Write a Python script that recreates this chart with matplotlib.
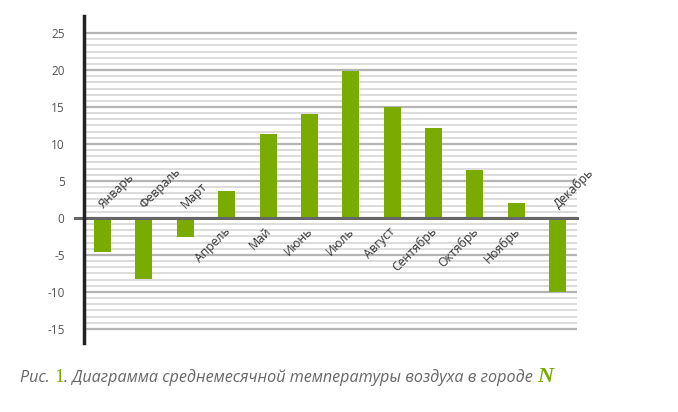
import matplotlib
matplotlib.use('Agg')
import matplotlib.pyplot as plt
import numpy as np

# данные
months = ['Январь', 'Февраль', 'Март', 'Апрель', 'Май', 'Июнь',
          'Июль', 'Август', 'Сентябрь', 'Октябрь', 'Ноябрь', 'Декабрь']
temps = [-4.6, -8.2, -2.6, 3.7, 11.4, 14.1, 19.8, 15.0, 12.2, 6.5, 2.0, -10.0]
yticks = [-15, -10, -5, 0, 5, 10, 15, 20, 25]

GREEN = '#7aab00'
plt.rcParams['font.family'] = ['Open Sans', 'DejaVu Sans']

fig = plt.figure(figsize=(6.78, 4.12), dpi=100)
ax = fig.add_axes([84/678, 1 - 343/412, (577-84)/678, (343-16)/412])

x = np.arange(len(months))
ax.bar(x, temps, width=0.41, color=GREEN, zorder=3)

ax.set_xlim(-0.45, 11.47)
ax.set_ylim(-16.9, 27.3)

# сетка
for v in np.arange(-15, 25.01, 5/6):
    ax.axhline(v, color='#dcdcdc', lw=1.4, zorder=1)
for v in yticks:
    ax.axhline(v, color='#b4b4b4', lw=1.6, zorder=2)
ax.plot([-0.67, 11.47], [0, 0], color='#666666', lw=2.2, zorder=4, clip_on=False)

ax.set_yticks(yticks)
ax.set_yticklabels([str(v) for v in yticks])
ax.tick_params(axis='y', length=0, pad=14, labelsize=8.5, labelcolor='#555555')
ax.set_xticks([])

for s in ['top', 'right', 'bottom']:
    ax.spines[s].set_visible(False)
ax.spines['left'].set_color('#222222')
ax.spines['left'].set_linewidth(2.5)
ax.spines['left'].set_zorder(5)

# подписи месяцев
for i, (m, t) in enumerate(zip(months, temps)):
    if t < 0:
        ax.text(i + 0.07, 0.9, m, rotation=45, rotation_mode='anchor',
                ha='left', va='bottom', fontsize=8.8, color='#333333', zorder=6)
    else:
        ax.text(i - 0.08, -0.9, m, rotation=45, rotation_mode='anchor',
                ha='right', va='top', fontsize=8.8, color='#333333', zorder=6)

# подпись рисунка
parts = [
    ('Рис. ', dict(family=['Open Sans', 'DejaVu Sans'], style='italic', color='#666666', size=11.6)),
    ('1', dict(family='Liberation Serif', color=GREEN, size=14)),
    ('. Диаграмма среднемесячной температуры воздуха в городе ',
     dict(family=['Open Sans', 'DejaVu Sans'], style='italic', color='#666666', size=11.6)),
    ('N', dict(family='Liberation Serif', style='italic', weight='bold', color=GREEN, size=16)),
]
fig.canvas.draw()
r = fig.canvas.get_renderer()
xpos = 20
for txt, kw in parts:
    t = fig.text(xpos / 678, 1 - 382/412, txt, ha='left', va='baseline', **kw)
    bb = t.get_window_extent(renderer=r)
    xpos += bb.width

fig.savefig('out.png', dpi=100)
